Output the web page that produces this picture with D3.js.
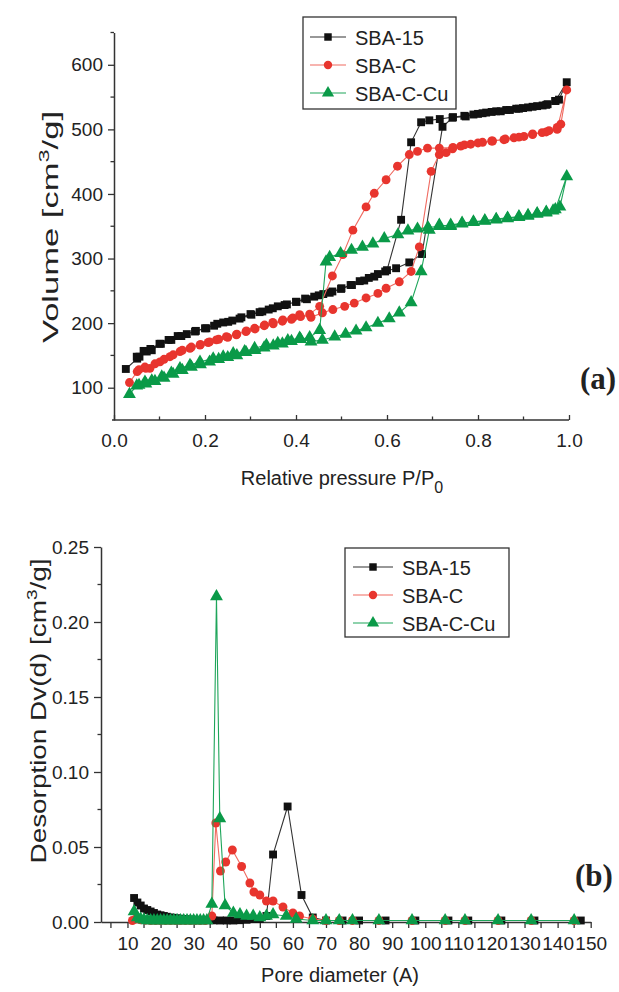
<!DOCTYPE html>
<html><head><meta charset="utf-8">
<script src="https://cdn.jsdelivr.net/npm/d3@7"></script>
<style>body{margin:0;background:#fff}svg{display:block}</style>
</head><body>
<svg id="c" width="619" height="992"></svg>
<script>
// ---------- DATA: (a) isotherms ----------
const seriesNames = ["SBA-15","SBA-C","SBA-C-Cu"];
const seriesColors = ["#111111","#e8352e","#0a9a48"];
const lineColors = ["#333333","#f06a60","#1ea55a"];

const sba15P = [0.026,0.051,0.056,0.072,0.083,0.103,0.126,0.148,0.178,0.203,0.227,0.251,0.276,0.302,0.326,0.349,0.375,0.401,0.424,0.450,0.474,0.499,0.523,0.550,0.572,0.596,0.620,0.649,0.677,0.722,0.744,0.773,0.800,0.818,0.840,0.862,0.884,0.899,0.920,0.942,0.953,0.970,0.978,0.995,
  0.970,0.950,0.930,0.910,0.890,0.870,0.850,0.830,0.810,0.790,0.770,0.745,0.716,0.693,0.675,0.653,0.631,0.600,0.580,0.560,0.540,0.520,0.500,0.480,0.460,0.440,0.420,
  0.400,0.380,0.360,0.340,0.320,0.300,0.280,0.260,0.240,0.220,0.200,0.180,0.160,0.140,0.120,0.100,0.080,0.065,0.050];
const sba15V = [129,145,148,156,158,168,174,180,187,192,199,202,207,213,218,223,228,233,237,243,247,253,259,266,272,280,285,294,307,504,518,520,524,526,528,530,532,533,535,537,539,544,546,573,
  544,538,536,534,532,530,528,527,525,523,521,519,516,514,511,480,360,282,276,270,265,259,254,249,245,241,238,
  233,229,226,221,217,214,209,204,201,196,192,188,183,180,174,168,160,157,148];

const sbacP = [0.034,0.051,0.068,0.079,0.101,0.123,0.145,0.167,0.189,0.207,0.225,0.247,0.269,0.291,0.309,0.331,0.349,0.371,0.393,0.408,0.433,0.458,0.481,0.507,0.528,0.554,0.580,0.598,0.627,0.653,0.671,0.697,0.715,0.730,0.744,0.762,0.784,0.810,0.832,0.857,0.879,0.901,0.920,0.941,0.956,0.974,0.982,0.995,
  0.974,0.950,0.920,0.890,0.860,0.830,0.800,0.770,0.745,0.715,0.689,0.667,0.649,0.623,0.598,0.572,0.554,0.525,0.503,0.480,0.452,0.430,0.410,
  0.390,0.370,0.350,0.330,0.310,0.290,0.270,0.250,0.230,0.210,0.190,0.170,0.150,0.130,0.110,0.090,0.070,0.055];
const sbacV = [108,125,132,130,140,148,156,161,166,170,174,179,182,188,192,197,201,205,208,213,209,216,221,226,231,239,246,254,264,280,318,435,461,464,470,474,477,480,482,484,487,489,493,495,498,503,508,561,
  500,496,492,488,485,482,479,476,472,471,471,466,461,443,422,401,380,344,306,273,226,214,210,
  206,203,199,196,191,187,183,178,175,171,167,163,158,151,144,137,130,128];

const sbacuP = [0.034,0.050,0.068,0.083,0.105,0.126,0.145,0.167,0.189,0.218,0.240,0.262,0.287,0.309,0.335,0.360,0.382,0.408,0.433,0.458,0.485,0.509,0.532,0.554,0.580,0.605,0.627,0.653,0.675,0.693,0.715,0.740,0.765,0.790,0.815,0.840,0.865,0.890,0.910,0.930,0.950,0.965,0.980,0.995,
  0.970,0.950,0.930,0.910,0.890,0.865,0.840,0.815,0.790,0.765,0.740,0.715,0.690,0.667,0.646,0.624,0.594,0.569,0.546,0.522,0.498,0.474,0.466,0.452,0.430,
  0.410,0.390,0.370,0.350,0.330,0.310,0.290,0.270,0.250,0.230,0.210,0.190,0.170,0.150,0.130,0.110,0.090,0.070,0.055];
const sbacuV = [90,103,109,111,117,123,130,135,140,145,148,153,156,161,166,169,173,177,171,174,179,183,188,193,200,207,216,232,280,344,352,350,354,356,358,360,362,364,366,369,371,374,380,427,
  376,372,370,367,365,363,361,359,357,355,352,350,348,346,343,337,331,323,318,313,308,302,295,189,178,
  175,172,168,165,162,158,155,150,147,144,140,136,132,127,121,115,110,106,104];

const pTicks = [0.0,0.2,0.4,0.6,0.8,1.0];
const vTicks = [100,200,300,400,500,600];

// ---------- DATA: (b) pore size distribution ----------
const sba15D  = [12,13,14,15,16,17,18,19,20,21,22,23,24,25,26,27,28,29,30,31,32,34,36,38,40,42,44,46,48,50,52,54,58.4,62.6,66,70,75,80,88,97,107,113,123,133,147];
const sba15Dv = [0.016,0.013,0.011,0.009,0.008,0.007,0.006,0.005,0.0045,0.004,0.0035,0.003,0.0028,0.0025,0.0022,0.002,0.0018,0.0016,0.0015,0.0014,0.0013,0.0012,0.0011,0.001,0.001,0.001,0.0012,0.0015,0.002,0.002,0.004,0.045,0.077,0.018,0.003,0.001,0.001,0.001,0.001,0.001,0.001,0.001,0.001,0.001,0.001];
const sbacD  = [11.5,12.5,14,15.5,17,18.5,20,21.5,23,24.5,26,27.5,29,30.5,32,33.5,35.5,36.7,38.1,39.7,41.7,44.5,47,48.2,50,52,54,57,60,62,66,70,74,78,86,96,106,112,122,132,145];
const sbacDv = [0.001,0.002,0.0015,0.0012,0.001,0.001,0.001,0.001,0.001,0.001,0.001,0.001,0.001,0.001,0.001,0.001,0.004,0.066,0.034,0.040,0.048,0.037,0.026,0.020,0.018,0.014,0.014,0.010,0.006,0.004,0.002,0.001,0.001,0.001,0.001,0.001,0.001,0.001,0.001,0.001,0.001];
const sbacuD  = [12,13,14,15,16,17,18,19,20,21,22,23,24,25,26,27,28,29,30,31,32,33,34,35.5,36.9,37.9,39.5,42,44,46,48,50,52,54,58,61,66,70,74,78,86,96,106,112,122,132,145];
const sbacuDv = [0.007,0.003,0.002,0.0015,0.001,0.001,0.001,0.001,0.001,0.001,0.001,0.001,0.001,0.001,0.001,0.001,0.001,0.001,0.001,0.001,0.001,0.001,0.001,0.012,0.217,0.069,0.011,0.006,0.005,0.004,0.004,0.003,0.004,0.005,0.004,0.002,0.001,0.001,0.001,0.001,0.001,0.001,0.001,0.001,0.001,0.001,0.001];

const dTicks = [10,20,30,40,50,60,70,80,90,100,110,120,130,140,150];
const dvTicks = [0.00,0.05,0.10,0.15,0.20,0.25];

// ---------- DRAW ----------
const svg = d3.select("#c");
const FONT = "'Liberation Sans', Arial, sans-serif";
const symbols = [d3.symbolSquare, d3.symbolCircle, d3.symbolTriangle];
const symSize = [62, 62, 72];

function drawSeries(g, x, y, xs, ys, i) {
  const pts = xs.map((v,k)=>[v, ys[k]]);
  g.append("path").datum(pts)
    .attr("fill","none").attr("stroke",lineColors[i]).attr("stroke-width",1.1)
    .attr("d", d3.line().x(d=>x(d[0])).y(d=>y(d[1])));
  g.selectAll(null).data(pts).enter().append("path")
    .attr("transform", d=>`translate(${x(d[0])},${y(d[1])})`)
    .attr("d", d3.symbol().type(symbols[i]).size(symSize[i]))
    .attr("fill", seriesColors[i]);
}

function legend(x0, y0, w, h, rowY, lineX1, lineX2, textX) {
  const g = svg.append("g");
  g.append("rect").attr("x",x0).attr("y",y0).attr("width",w).attr("height",h)
    .attr("fill","#fff").attr("stroke","#333").attr("stroke-width",1.3);
  seriesNames.forEach((n,i)=>{
    const yy = rowY[i];
    g.append("line").attr("x1",lineX1).attr("x2",lineX2).attr("y1",yy).attr("y2",yy)
      .attr("stroke",lineColors[i]).attr("stroke-width",1.1);
    g.append("path").attr("transform",`translate(${(lineX1+lineX2)/2},${yy})`)
      .attr("d", d3.symbol().type(symbols[i]).size(symSize[i]*0.9)).attr("fill",seriesColors[i]);
    g.append("text").attr("x",textX).attr("y",yy+7.5).text(n)
      .attr("font-family",FONT).attr("font-size",20).attr("fill","#222");
  });
}

function yTitle(cx, cy, len, main) {
  const t = svg.append("text").attr("transform",`translate(${cx},${cy}) rotate(-90)`).attr("text-anchor","middle")
    .attr("font-family",FONT).attr("font-size",22).attr("fill","#222")
    .attr("textLength",len).attr("lengthAdjust","spacingAndGlyphs");
  t.append("tspan").text(main + " [cm");
  t.append("tspan").text("3").attr("font-size",15).attr("dy",-9);
  t.append("tspan").text("/g]").attr("dy",9);
}

// ===== Panel (a) =====
{
  const x = d3.scaleLinear().domain([0,1]).range([114,569]);
  const y = d3.scaleLinear().domain([50,650]).range([420,32.5]);
  const g = svg.append("g");
  const minorX = d3.range(0.1,1.0,0.2);
  g.selectAll(null).data(minorX).enter().append("line")
    .attr("x1",d=>x(d)).attr("x2",d=>x(d)).attr("y1",420).attr("y2",416.5)
    .attr("stroke","#333").attr("stroke-width",1.3);
  const minorY = [150,250,350,450,550,650];
  g.selectAll(null).data(minorY).enter().append("line")
    .attr("x1",114).attr("x2",110.5).attr("y1",d=>y(d)).attr("y2",d=>y(d))
    .attr("stroke","#333").attr("stroke-width",1.3);
  const ax = g.append("g").attr("transform","translate(0,420)")
    .call(d3.axisBottom(x).tickValues(pTicks).tickSize(-5).tickSizeOuter(0).tickPadding(14).tickFormat(d3.format(".1f")));
  const ay = g.append("g").attr("transform","translate(114,0)")
    .call(d3.axisLeft(y).tickValues(vTicks).tickSize(6).tickSizeOuter(0).tickPadding(5).tickFormat(d3.format("d")));
  [ax,ay].forEach(a=>{
    a.select(".domain").attr("stroke","#333").attr("stroke-width",1.5);
    a.selectAll(".tick line").attr("stroke","#333").attr("stroke-width",1.3);
    a.selectAll("text").attr("font-family",FONT).attr("font-size",19).attr("fill","#222");
  });
  ax.select(".domain").attr("d","M112,0H569");
  const s = svg.append("g");
  drawSeries(s,x,y,sba15P,sba15V,0);
  drawSeries(s,x,y,sbacP,sbacV,1);
  drawSeries(s,x,y,sbacuP,sbacuV,2);
  const tx = svg.append("text").attr("x",342).attr("y",485).attr("text-anchor","middle")
    .attr("font-family",FONT).attr("font-size",20).attr("fill","#222");
  tx.append("tspan").text("Relative pressure P/P");
  tx.append("tspan").text("0").attr("font-size",16).attr("dy",8);
  yTitle(58, 227, 232, "Volume");
  svg.append("text").attr("x",598).attr("y",389).attr("text-anchor","middle")
    .attr("font-family","'Liberation Serif', 'Times New Roman', serif").attr("font-weight","bold")
    .attr("font-size",31).attr("fill","#222").text("(a)");
  legend(303,17,153,92,[37,65,93],310,346,355);
}

// ===== Panel (b) =====
{
  const x = d3.scaleLinear().domain([2,150]).range([101,590.7]);
  const y = d3.scaleLinear().domain([0,0.25]).range([922,547]);
  const g = svg.append("g");
  const minorX = d3.range(5,150,10);
  g.selectAll(null).data(minorX).enter().append("line")
    .attr("x1",d=>x(d)).attr("x2",d=>x(d)).attr("y1",922).attr("y2",928)
    .attr("stroke","#333").attr("stroke-width",1.3);
  const minorY = [0.025,0.075,0.125,0.175,0.225];
  g.selectAll(null).data(minorY).enter().append("line")
    .attr("x1",101).attr("x2",97.5).attr("y1",d=>y(d)).attr("y2",d=>y(d))
    .attr("stroke","#333").attr("stroke-width",1.3);
  const ax = g.append("g").attr("transform","translate(0,922)")
    .call(d3.axisBottom(x).tickValues(dTicks).tickSize(6).tickSizeOuter(0).tickPadding(9).tickFormat(d3.format("d")));
  const ay = g.append("g").attr("transform","translate(101,0)")
    .call(d3.axisLeft(y).tickValues(dvTicks).tickSize(7).tickSizeOuter(0).tickPadding(5).tickFormat(d3.format(".2f")));
  [ax,ay].forEach(a=>{
    a.select(".domain").attr("stroke","#333").attr("stroke-width",1.5);
    a.selectAll(".tick line").attr("stroke","#333").attr("stroke-width",1.3);
    a.selectAll("text").attr("font-family",FONT).attr("font-size",19).attr("fill","#222");
  });
  const s = svg.append("g");
  drawSeries(s,x,y,sba15D,sba15Dv,0);
  drawSeries(s,x,y,sbacD,sbacDv,1);
  drawSeries(s,x,y,sbacuD,sbacuDv,2);
  svg.append("text").attr("x",340).attr("y",982).attr("text-anchor","middle")
    .attr("font-family",FONT).attr("font-size",20).attr("fill","#222").text("Pore diameter (A)");
  yTitle(46, 711, 305, "Desorption Dv(d)");
  svg.append("text").attr("x",594).attr("y",886).attr("text-anchor","middle")
    .attr("font-family","'Liberation Serif', 'Times New Roman', serif").attr("font-weight","bold")
    .attr("font-size",31).attr("fill","#222").text("(b)");
  legend(345,548,164,89,[567,595,623],353,393,402);
}
</script>
</body></html>
